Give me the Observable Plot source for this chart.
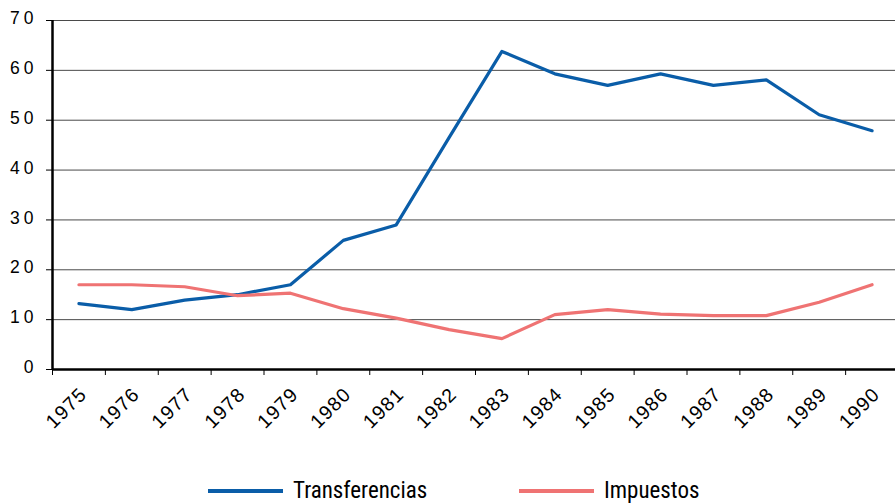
<!DOCTYPE html>
<html><head><meta charset="utf-8">
<script src="https://cdn.jsdelivr.net/npm/d3@7"></script>
<script src="https://cdn.jsdelivr.net/npm/@observablehq/plot@0.6"></script>
<style>
html,body{margin:0;padding:0;background:#fff;width:895px;height:504px;overflow:hidden}
#wrap{position:relative;width:895px;height:504px}
.item{position:absolute;top:476px;display:flex;align-items:center;white-space:nowrap;font-family:"Liberation Sans Narrow","Roboto Condensed","Arial Narrow","Liberation Sans",sans-serif;font-size:23px;line-height:30px;color:#000}
.sw{width:75px;height:4px;margin-right:10px}
</style>
</head><body><div id="wrap"></div>
<script>
const years = [1975,1976,1977,1978,1979,1980,1981,1982,1983,1984,1985,1986,1987,1988,1989,1990];
const transferencias = [13.2,12.0,13.9,15.0,17.0,25.9,29.0,46.5,63.8,59.3,57.0,59.3,57.0,58.1,51.1,47.9];
const impuestos = [17.0,17.0,16.6,14.8,15.3,12.2,10.3,8.0,6.2,11.0,12.0,11.1,10.8,10.8,13.5,17.0];
const yTicks = [0,10,20,30,40,50,60,70];
const seriesNames = ["Transferencias","Impuestos"];
const seriesColors = ["#0a5da8","#ef7373"];

const data = years.flatMap((yr,i)=>[
  {year:yr, value:transferencias[i], serie:seriesNames[0]},
  {year:yr, value:impuestos[i], serie:seriesNames[1]}
]);
const boundaries = years.map(y=>y-0.5).concat([years[years.length-1]+0.5]);

const plot = Plot.plot({
  width:895, height:460,
  marginLeft:52, marginRight:0, marginTop:20, marginBottom:91,
  style:{fontFamily:"'Liberation Sans', Arial, sans-serif", fontSize:"16px", color:"#000", overflow:"visible"},
  x:{domain:[boundaries[0], boundaries[boundaries.length-1]], range:[52,898], axis:null},
  y:{domain:[0,70], axis:null},
  color:{domain:seriesNames, range:seriesColors},
  marks:[
    Plot.ruleY(yTicks.filter(d=>d>0), {stroke:"#4a4a4a", strokeWidth:1}),
    Plot.line(data, {x:"year", y:"value", z:"serie", stroke:"serie", strokeWidth:3.2}),
    Plot.axisY({ticks:yTicks, tickSize:6, tickFormat:()=>"", label:null, stroke:"#000", strokeWidth:1}),
    Plot.axisX({ticks:boundaries, tickSize:6, tickFormat:()=>"", label:null, stroke:"#000", strokeWidth:1}),
    Plot.ruleX([boundaries[0]], {y1:0, y2:70, stroke:"#000", strokeWidth:2.5}),
    Plot.ruleY([0], {stroke:"#000", strokeWidth:2.5}),
    Plot.text(yTicks, {x:()=>boundaries[0], y:d=>d, text:d=>String(d), textAnchor:"end", dx:-15, dy:-2, fontSize:17.5, fill:"#000"}),
    Plot.text(years, {x:d=>d, y:()=>0, text:d=>String(d), rotate:-45, textAnchor:"end", lineAnchor:"bottom", dx:9, dy:26, fontSize:19.5, fill:"#000"})
  ]
});
d3.select(plot).selectAll("text").each(function(){
  const tr = this.getAttribute("transform") || "";
  const pt = this.parentNode && this.parentNode.getAttribute ? (this.parentNode.getAttribute("transform")||"") : "";
  this.style.letterSpacing = (tr.includes("rotate") || pt.includes("rotate")) ? "1.2px" : "4px";
});
const wrap = document.getElementById("wrap");
wrap.appendChild(plot);
const lefts = [208, 519];
seriesNames.forEach((n,i)=>{
  const it = document.createElement("div");
  it.className = "item";
  it.style.left = lefts[i]+"px";
  const sw = document.createElement("div");
  sw.className = "sw"; sw.style.background = seriesColors[i];
  const t = document.createElement("span"); t.textContent = n;
  it.appendChild(sw); it.appendChild(t);
  wrap.appendChild(it);
});
</script>
</body></html>
